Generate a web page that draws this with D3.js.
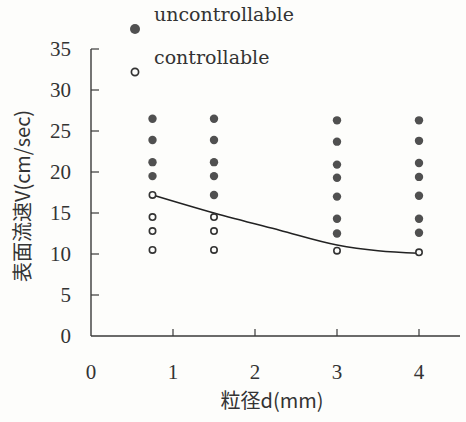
<!DOCTYPE html>
<html>
<head>
<meta charset="utf-8">
<script src="https://cdn.jsdelivr.net/npm/d3@7"></script>
<style>
  html, body { margin: 0; padding: 0; background: #fdfdfb; }
  svg { display: block; }
</style>
</head>
<body>
<svg id="chart" width="466" height="422"></svg>
<script>
// grain sizes (mm) of the four test columns
const diameters = [0.75, 1.5, 3, 4];

// surface velocities per column, from top to bottom
const uncontrollable = [
  [26.5, 23.9, 21.2, 19.5],
  [26.5, 23.9, 21.2, 19.5, 17.2],
  [26.3, 23.7, 20.9, 19.3, 17.0, 14.3, 12.5],
  [26.3, 23.8, 21.1, 19.4, 17.1, 14.3, 12.6]
];
const controllable = [
  [17.2, 14.5, 12.8, 10.5],
  [14.5, 12.8, 10.5],
  [10.4],
  [10.2]
];

// boundary curve
const boundaryD = [0.75, 1.5, 2.3, 3.0, 3.5, 4.0];
const boundaryV = [17.2, 15.0, 12.9, 11.1, 10.4, 10.1];

const xTicks = [0, 1, 2, 3, 4];
const yTicks = [0, 5, 10, 15, 20, 25, 30, 35];

const serifFont = "'Liberation Serif', 'Times New Roman', 'DejaVu Serif', serif";
const cjkFont = "'Noto Sans CJK JP', sans-serif";

const svg = d3.select('#chart');

const x = d3.scaleLinear().domain([0, 4.5]).range([91, 460]);
const y = d3.scaleLinear().domain([0, 35]).range([336, 49]);

const ink = '#3a3a3a';

// axes lines
svg.append('line')
  .attr('x1', x(0)).attr('x2', x(0))
  .attr('y1', y(35)).attr('y2', y(0))
  .attr('stroke', ink).attr('stroke-width', 1.4);
svg.append('line')
  .attr('x1', x(0)).attr('x2', x(4.5))
  .attr('y1', y(0)).attr('y2', y(0))
  .attr('stroke', ink).attr('stroke-width', 1.4);

// y ticks (inside)
svg.append('g').selectAll('line')
  .data(yTicks.filter((t) => t > 0))
  .join('line')
  .attr('x1', x(0)).attr('x2', x(0) + 8)
  .attr('y1', (d) => y(d)).attr('y2', (d) => y(d))
  .attr('stroke', ink).attr('stroke-width', 1.2);

svg.append('g').selectAll('text')
  .data(yTicks)
  .join('text')
  .attr('font-family', serifFont)
  .attr('font-size', 21)
  .attr('fill', '#333')
  .attr('x', 71)
  .attr('y', (d) => y(d))
  .attr('dy', '0.34em')
  .attr('text-anchor', 'end')
  .text((d) => d);

// x ticks (inside)
svg.append('g').selectAll('line')
  .data(xTicks.filter((t) => t > 0))
  .join('line')
  .attr('x1', (d) => x(d)).attr('x2', (d) => x(d))
  .attr('y1', y(0)).attr('y2', y(0) - 7)
  .attr('stroke', ink).attr('stroke-width', 1.2);

svg.append('g').selectAll('text')
  .data(xTicks)
  .join('text')
  .attr('font-family', serifFont)
  .attr('font-size', 21)
  .attr('fill', '#333')
  .attr('x', (d) => x(d))
  .attr('y', 379)
  .attr('text-anchor', 'middle')
  .text((d) => d);

// axis titles
svg.append('text')
  .attr('font-family', cjkFont)
  .attr('font-size', 20)
  .attr('fill', '#333')
  .attr('x', 272)
  .attr('y', 408)
  .attr('text-anchor', 'middle')
  .text('粒径d(mm)');

svg.append('text')
  .attr('font-family', cjkFont)
  .attr('font-size', 20)
  .attr('fill', '#333')
  .attr('transform', 'translate(30,196) rotate(-90)')
  .attr('text-anchor', 'middle')
  .text('表面流速V(cm/sec)');

// boundary line
const line = d3.line()
  .x((d, i) => x(boundaryD[i]))
  .y((d) => y(d))
  .curve(d3.curveMonotoneX);

svg.append('path')
  .datum(boundaryV)
  .attr('d', line)
  .attr('fill', 'none')
  .attr('stroke', '#222')
  .attr('stroke-width', 1.6);

// points
const filledPts = uncontrollable.flatMap((vals, i) => vals.map((v) => ({ d: diameters[i], v })));
const openPts = controllable.flatMap((vals, i) => vals.map((v) => ({ d: diameters[i], v })));

svg.append('g').selectAll('circle')
  .data(filledPts)
  .join('circle')
  .attr('cx', (p) => x(p.d))
  .attr('cy', (p) => y(p.v))
  .attr('r', 4.2)
  .attr('fill', '#505050');

svg.append('g').selectAll('circle')
  .data(openPts)
  .join('circle')
  .attr('cx', (p) => x(p.d))
  .attr('cy', (p) => y(p.v))
  .attr('r', 3.2)
  .attr('fill', '#fdfdfb')
  .attr('stroke', '#333')
  .attr('stroke-width', 1.6);

// legend
svg.append('circle').attr('cx', 135).attr('cy', 29).attr('r', 5).attr('fill', '#505050');
svg.append('circle').attr('cx', 135).attr('cy', 72).attr('r', 3.6)
  .attr('fill', '#fdfdfb').attr('stroke', '#333').attr('stroke-width', 1.7);
svg.append('text')
  .attr('font-family', "'DejaVu Serif', serif").attr('font-size', 19).attr('fill', '#333')
  .attr('x', 154).attr('y', 21).text('uncontrollable');
svg.append('text')
  .attr('font-family', "'DejaVu Serif', serif").attr('font-size', 19).attr('fill', '#333')
  .attr('x', 154).attr('y', 64).text('controllable');
</script>
</body>
</html>
